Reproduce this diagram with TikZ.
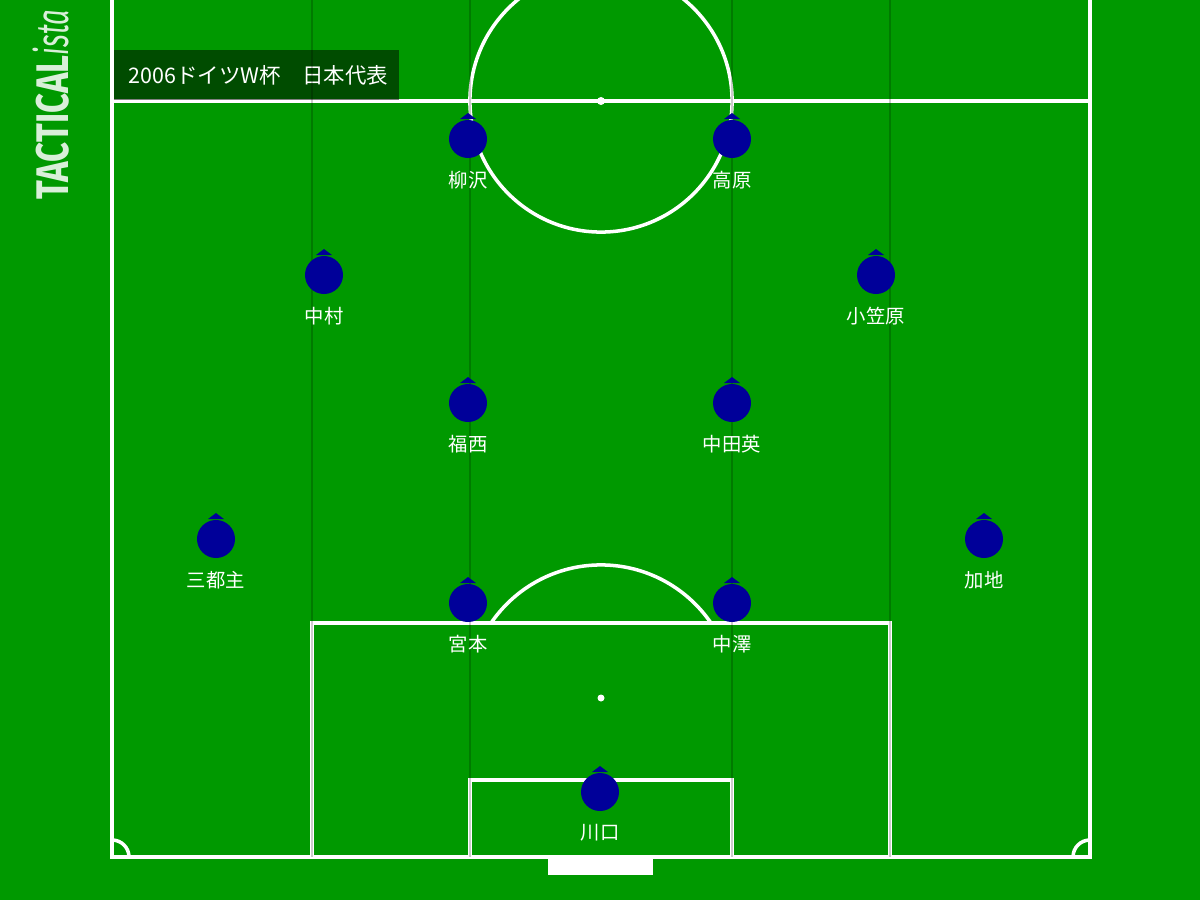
\documentclass[tikz,border=0pt]{standalone}
\usepackage{fontspec}
\usepackage{tikz}
\newfontfamily\jpfont{Noto Sans CJK JP}
\newfontfamily\logofont{Fira Sans}
\definecolor{pitch}{RGB}{0,153,0}
\definecolor{kit}{RGB}{0,0,153}
\tikzset{
  line/.style={white, line width=1pt},
  lane/.style={black, opacity=0.2, line width=0.65pt},
  player/.style={circle, fill=kit, inner sep=0pt, minimum size=0.38cm},
  pname/.style={white, inner sep=0pt, font=\jpfont\fontsize{5.5}{6.5}\selectfont},
}

\begin{document}
\begin{tikzpicture}[x=0.01cm, y=-0.01cm]
         \clip (0,0) rectangle (1200,900);
         \fill[pitch] (0,0) rectangle (1200,900);
         % pitch lines
         \draw[line] (112,-5) -- (112,857) -- (1090,857) -- (1090,-5);
         \draw[line] (112,101) -- (1090,101);
         \draw[line] (601,101) circle[radius=1.31cm];
         \fill[white] (601,101) circle[radius=0.04cm];
         \draw[line] (312,857) -- (312,623) -- (890,623) -- (890,857);
         \draw[line] (470,857) -- (470,780) -- (732,780) -- (732,857);
         \fill[white] (601,698) circle[radius=0.035cm];
         \begin{scope}
           \clip (0,0) rectangle (1200,623);
           \draw[line] (601,698) circle[radius=1.33cm];
         \end{scope}
         \draw[line] (129,857) arc[start angle=0, end angle=90, radius=0.17cm];
         \draw[line] (1073,857) arc[start angle=180, end angle=90, radius=0.17cm];
         \fill[white] (548,858) rectangle (653,875);
         % title
         \fill[black, opacity=0.5] (114,50) rectangle (399,100);
         \node[anchor=west, white, inner sep=0pt, font=\jpfont\fontsize{6.1}{7}\selectfont] (TITLE) at (128,75) {2006ドイツW杯　日本代表};
         % lanes
         \draw[lane] (312,0) -- (312,857);
         \draw[lane] (470,0) -- (470,857);
         \draw[lane] (732,0) -- (732,857);
         \draw[lane] (890,0) -- (890,857);
         % logo
         \node[rotate=90, anchor=base west, white, opacity=0.85, inner sep=0pt, font=\logofont\fontsize{13}{13}\selectfont] (LOGO) at (68,200) {\scalebox{0.76}[1]{\bfseries TACTICAL}\scalebox{0.6}[1]{\itshape ista}};
         % players
         \fill[kit] (460,119) -- (476,119) -- (468,113) -- cycle;
         \node[player] (FWL) at (468,139) {};
         \node[pname] (FWLn) at (468,180) {柳沢};
         \fill[kit] (724,119) -- (740,119) -- (732,113) -- cycle;
         \node[player] (FWR) at (732,139) {};
         \node[pname] (FWRn) at (732,180) {高原};
         \fill[kit] (316,255) -- (332,255) -- (324,249) -- cycle;
         \node[player] (AML) at (324,275) {};
         \node[pname] (AMLn) at (324,316) {中村};
         \fill[kit] (868,255) -- (884,255) -- (876,249) -- cycle;
         \node[player] (AMR) at (876,275) {};
         \node[pname] (AMRn) at (876,316) {小笠原};
         \fill[kit] (460,383) -- (476,383) -- (468,377) -- cycle;
         \node[player] (DML) at (468,403) {};
         \node[pname] (DMLn) at (468,444) {福西};
         \fill[kit] (724,383) -- (740,383) -- (732,377) -- cycle;
         \node[player] (DMR) at (732,403) {};
         \node[pname] (DMRn) at (732,444) {中田英};
         \fill[kit] (208,519) -- (224,519) -- (216,513) -- cycle;
         \node[player] (LB) at (216,539) {};
         \node[pname] (LBn) at (216,580) {三都主};
         \fill[kit] (976,519) -- (992,519) -- (984,513) -- cycle;
         \node[player] (RB) at (984,539) {};
         \node[pname] (RBn) at (984,580) {加地};
         \fill[kit] (460,583) -- (476,583) -- (468,577) -- cycle;
         \node[player] (CBL) at (468,603) {};
         \node[pname] (CBLn) at (468,644) {宮本};
         \fill[kit] (724,583) -- (740,583) -- (732,577) -- cycle;
         \node[player] (CBR) at (732,603) {};
         \node[pname] (CBRn) at (732,644) {中澤};
         \fill[kit] (592,772) -- (608,772) -- (600,766) -- cycle;
         \node[player] (GK) at (600,792) {};
         \node[pname] (GKn) at (600,833) {川口};
\end{tikzpicture}
\end{document}
